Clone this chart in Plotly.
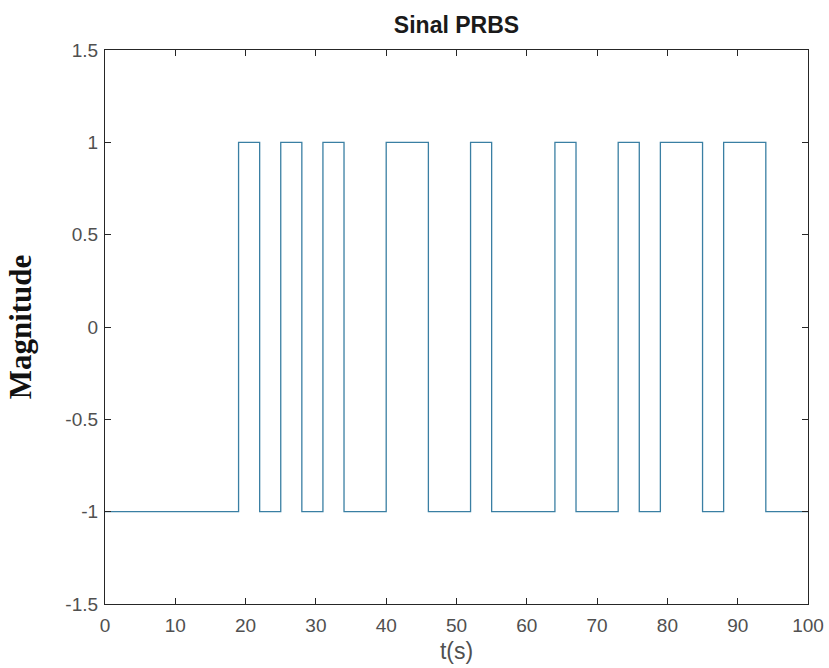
import plotly.graph_objects as go

# PRBS switching instants (s) and the level held from each instant
t_switch = [0, 19, 22, 25, 28, 31, 34, 40, 46, 52, 55, 64, 67, 73, 76, 79, 85, 88, 94, 100]
level = [-1, 1, -1, 1, -1, 1, -1, 1, -1, 1, -1, 1, -1, 1, -1, 1, -1, 1, -1, -1]

x_ticks = [0, 10, 20, 30, 40, 50, 60, 70, 80, 90, 100]
y_ticks = [-1.5, -1, -0.5, 0, 0.5, 1, 1.5]
y_tick_text = ["-1.5", "-1", "-0.5", "0", "0.5", "1", "1.5"]

fig = go.Figure()
fig.add_trace(go.Scatter(
    x=t_switch, y=level, mode="lines", line_shape="hv",
    line=dict(color="#3a7fa3", width=1.3), showlegend=False,
))

axis_common = dict(
    showgrid=False, zeroline=False, showline=True, linecolor="#262626",
    linewidth=1.2, mirror="ticks", ticks="inside", ticklen=6, tickwidth=1,
    tickcolor="#262626", automargin=False,
    tickfont=dict(family="Liberation Sans, Arial, sans-serif", size=19, color="#505050"),
)

fig.update_layout(
    width=829, height=668,
    margin=dict(l=105, r=21, t=50, b=64),
    paper_bgcolor="white", plot_bgcolor="white",
    title=dict(
        text="<b>Sinal PRBS</b>", x=0.5, xanchor="center", xref="paper",
        y=1 - 25 / 668, yanchor="middle",
        font=dict(family="Liberation Sans, Arial, sans-serif", size=23, color="#1a1a1a"),
    ),
    xaxis=dict(
        range=[0, 100], tickvals=x_ticks, ticktext=[str(v) for v in x_ticks],
        ticklabelstandoff=4,
        title=dict(text="t(s)", standoff=7,
                   font=dict(family="Liberation Sans, Arial, sans-serif", size=23, color="#505050")),
        **axis_common,
    ),
    yaxis=dict(
        range=[-1.5, 1.5], tickvals=y_ticks, ticktext=y_tick_text,
        ticklabelstandoff=2,
        title=dict(text="<b>Magnitude</b>", standoff=24,
                   font=dict(family="Liberation Serif, Times New Roman, serif", size=31, color="#111111")),
        **axis_common,
    ),
)

fig.write_html("out.html")
